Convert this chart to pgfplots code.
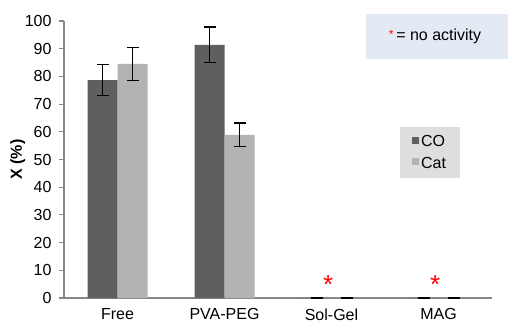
\documentclass[border=0pt]{standalone}
\usepackage{pgfplots}
\pgfplotsset{compat=1.18}
\usepackage{pgfplotstable}
\usepackage{fontspec}
\setmainfont{Liberation Sans}
\definecolor{codark}{HTML}{5F5F5F}
\definecolor{catlight}{HTML}{B3B3B3}
\definecolor{axgray}{HTML}{868686}
\definecolor{leggray}{HTML}{DEDEDE}
\definecolor{boxblue}{HTML}{E4EAF4}
\pgfplotstableread{
x y err
0 78.7 5.6
1 91.4 6.4
2 0 0
3 0 0
}\co
\pgfplotstableread{
x y err
0 84.5 5.9
1 58.9 4.2
2 0 0
3 0 0
}\cat
\begin{document}
\begin{tikzpicture}
\path[use as bounding box] (0,0) rectangle (508pt,322pt);
\begin{axis}[
  at={(64pt,24pt)}, anchor=south west,
  scale only axis, width=428pt, height=277pt,
  ybar=0pt, bar width=30pt,
  xmin=-0.5, xmax=3.5, ymin=0, ymax=100,
  axis x line*=bottom, axis y line*=left,
  axis line style={axgray, line width=1.1pt},
  xtick={0,1,2,3},
  xticklabels={Free,PVA-PEG,Sol-Gel,MAG},
  x tick style={draw=none},
  extra x ticks={-0.5,0.5,1.5,2.5,3.5},
  extra x tick labels={},
  extra x tick style={tick style={axgray, line width=1.1pt, draw=axgray}, major tick length=5pt, tick align=outside},
  ytick={0,10,...,100},
  y tick style={axgray, line width=1.1pt},
  tick align=outside, major tick length=5pt,
  ticklabel style={font=\fontsize{16}{19}\selectfont},
  /pgf/number format/assume math mode=true,
  xticklabel style={yshift=-2pt},
  yticklabel style={xshift=-4pt},
  ylabel={X (\%)},
  every axis y label/.style={at={(axis description cs:-0.108,0.5)}, rotate=90, anchor=center, font=\bfseries\fontsize{16}{19}\selectfont},
  clip=false,
  legend style={at={(rel axis cs:0.785,0.617)}, anchor=north west, fill=leggray, draw=none,
    font=\fontsize{16}{19}\selectfont, inner xsep=12pt, inner ysep=6pt, row sep=5pt},
  legend cell align=left,
  legend image code/.code={\fill[#1] (4pt,-2pt) rectangle (11pt,5pt);},
  error bars/error bar style={black, line width=1.5pt},
  error bars/error mark options={black, line width=1.5pt, mark size=6pt, rotate=90},
]
\fill[boxblue] (rel axis cs:0.7056,1.0253) rectangle (rel axis cs:1.0374,0.8628);
\node[anchor=center, font=\fontsize{16}{19}\selectfont] at (rel axis cs:0.8670,0.9440) {\textcolor{red}{\raisebox{2pt}{\fontsize{12}{12}\selectfont*}}\,= no activity};
\addplot[fill=codark, draw=none, error bars/.cd, y dir=both, y explicit] table[x=x, y=y, y error=err] {\co};
\addlegendentry{CO}
\addplot[fill=catlight, draw=none, error bars/.cd, y dir=both, y explicit] table[x=x, y=y, y error=err] {\cat};
\addlegendentry{Cat}
\node[red, font=\fontsize{26}{26}\selectfont] at (axis cs:1.97,5) {*};
\node[red, font=\fontsize{26}{26}\selectfont] at (axis cs:2.97,5) {*};
\end{axis}
\end{tikzpicture}
\end{document}
